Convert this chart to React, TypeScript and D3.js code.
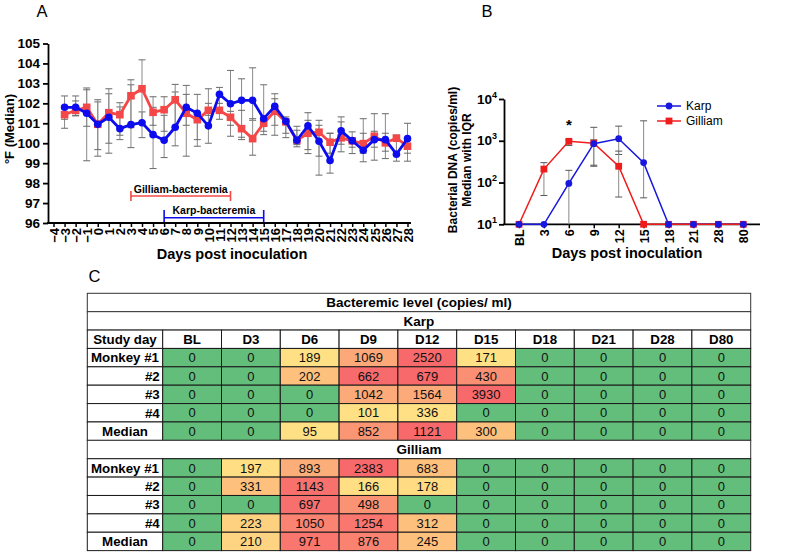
import React, { useRef, useEffect } from "react";
import * as d3 from "d3";

// ---------- Panel A: body temperature, median (°F)
const tempTicksX = [-4, -3, -2, -1, 0, 1, 2, 3, 4, 5, 6, 7, 8, 9, 10, 11, 12, 13, 14, 15, 16, 17, 18, 19, 20, 21, 22, 23, 24, 25, 26, 27, 28];
const tempTicksY = [96, 97, 98, 99, 100, 101, 102, 103, 104, 105];
const tempDays = [-3, -2, -1, 0, 1, 2, 3, 4, 5, 6, 7, 8, 9, 10, 11, 12, 13, 14, 15, 16, 17, 18, 19, 20, 21, 22, 23, 24, 25, 26, 27, 28];
const karpTemp = [101.8, 101.8, 101.5, 100.95, 101.3, 100.73, 100.93, 101.03, 100.43, 100.15, 100.8, 101.8, 101.5, 100.87, 102.45, 101.98, 102.15, 102.15, 101.23, 101.85, 101.1, 100.15, 100.87, 100.1, 99.13, 100.62, 100.13, 99.65, 100.18, 100.18, 99.45, 100.23];
const karpTempLo = [100.75, 101.37, 99.12, 99.35, 99.5, 100.18, 99.78, 100.28, 98.73, 99.28, 99.87, 99.35, 99.85, 100.0, 101.7, 100.35, 100.18, 101.15, 100.43, 100.9, 100.28, 99.82, 99.48, 98.4, 98.5, 99.57, 99.48, 99.07, 99.15, 99.23, 99.1, 99.1];
const karpTempHi = [102.37, 102.37, 102.77, 102.07, 102.48, 101.82, 102.93, 101.57, 101.8, 101.4, 102.57, 102.9, 102.45, 102.73, 102.8, 103.65, 103.23, 103.78, 102.93, 102.48, 101.32, 100.85, 101.53, 101.15, 100.5, 101.32, 100.57, 101.23, 101.48, 101.48, 100.4, 101.0];
const gilliamTemp = [101.43, 101.65, 101.8, 100.95, 101.53, 101.43, 102.38, 102.73, 101.55, 101.68, 102.18, 101.5, 101.18, 101.65, 101.65, 101.3, 100.73, 100.23, 101.0, 101.6, 101.07, 100.15, 100.5, 100.55, 100.05, 100.27, 100.12, 99.98, 100.35, 100.02, 100.25, 99.85];
const gilliamTempLo = [101.2, 101.4, 100.85, 99.68, 100.0, 100.4, 100.78, 101.07, 100.9, 100.6, 100.82, 100.9, 100.18, 101.4, 101.2, 100.9, 100.3, 99.4, 100.6, 100.4, 100.5, 99.93, 99.68, 99.35, 99.5, 99.95, 99.8, 99.5, 99.8, 99.6, 99.5, 99.5];
const gilliamTempHi = [101.87, 102.12, 102.68, 102.18, 102.73, 102.03, 103.18, 104.18, 102.33, 102.33, 102.95, 102.45, 101.52, 102.0, 102.0, 101.6, 101.65, 101.23, 101.3, 102.23, 101.2, 100.65, 101.15, 100.9, 100.5, 101.07, 100.28, 100.5, 100.6, 100.5, 100.4, 100.3];
const gilliamWindow = [3, 12];
const karpWindow = [6, 15];

// ---------- Panel B: bacterial DNA (copies/ml), median with IQR
const dnaDays = ["BL", "3", "6", "9", "12", "15", "18", "21", "28", "80"];
const dnaTicksY = [10, 100, 1000, 10000];
const karpDNA = [10, 10, 95, 852, 1121, 300, 10, 10, 10, 10];
const karpDNALo = [10, 10, 10, 245, 470, 43, 10, 10, 10, 10];
const karpDNAHi = [10, 10, 196, 2100, 2240, 3000, 10, 10, 10, 10];
const gilliamDNA = [10, 210, 971, 876, 245, 10, 10, 10, 10, 10];
const gilliamDNALo = [10, 49, 773, 260, 45, 10, 10, 10, 10, 10];
const gilliamDNAHi = [10, 299, 1050, 1050, 565, 10, 10, 10, 10, 10];

// ---------- Panel C: bacteremic level table
const studyDays = ["BL", "D3", "D6", "D9", "D12", "D15", "D18", "D21", "D28", "D80"];
const rowLabels = ["Monkey #1", "#2", "#3", "#4", "Median"];
const karpTable = [
  [0, 0, 189, 1069, 2520, 171, 0, 0, 0, 0],
  [0, 0, 202, 662, 679, 430, 0, 0, 0, 0],
  [0, 0, 0, 1042, 1564, 3930, 0, 0, 0, 0],
  [0, 0, 0, 101, 336, 0, 0, 0, 0, 0],
  [0, 0, 95, 852, 1121, 300, 0, 0, 0, 0],
];
const gilliamTable = [
  [0, 197, 893, 2383, 683, 0, 0, 0, 0, 0],
  [0, 331, 1143, 166, 178, 0, 0, 0, 0, 0],
  [0, 0, 697, 498, 0, 0, 0, 0, 0, 0],
  [0, 223, 1050, 1254, 312, 0, 0, 0, 0, 0],
  [0, 210, 971, 876, 245, 0, 0, 0, 0, 0],
];
// cell shading as printed: -1 = green, otherwise position on yellow -> red
const karpHeat = [
  [-1, -1, 0.0, 0.47, 1, 0.0, -1, -1, -1, -1],
  [-1, -1, 0.27, 0.98, 1, 0.68, -1, -1, -1, -1],
  [-1, -1, -1, 0.45, 0.45, 1, -1, -1, -1, -1],
  [-1, -1, -1, 0.0, 0.0, -1, -1, -1, -1, -1],
  [-1, -1, 0.0, 0.62, 1, 0.27, -1, -1, -1, -1],
];
const gilliamHeat = [
  [-1, 0.02, 0.42, 1, 0.27, -1, -1, -1, -1, -1],
  [-1, 0.27, 0.93, 0.02, 0.03, -1, -1, -1, -1, -1],
  [-1, -1, 0.94, 0.65, -1, -1, -1, -1, -1, -1],
  [-1, 0.13, 0.78, 0.88, 0.27, -1, -1, -1, -1, -1],
  [-1, 0.1, 0.88, 0.79, 0.27, -1, -1, -1, -1, -1],
];

const FONT = "'Liberation Sans', Arial, Helvetica, sans-serif";
const BLUE_A = "#0c0cee";
const RED_A = "#f44848";
const BLUE_B = "#1717e0";
const RED_B = "#f01c1c";
const GREY = "#8a8a8a";

function App() {
  const ref = useRef<SVGSVGElement | null>(null);

  useEffect(() => {
    const svg = d3.select(ref.current);
    svg.selectAll("*").remove();
    svg.style("font-family", FONT);

    // ================= Panel A =================
    const xA = d3.scaleLinear().domain([-4, 28]).range([53.5, 407.5]);
    const yA = d3.scaleLinear().domain([96, 105]).range([223, 43.5]);
    const gA = svg.append("g");

    gA.append("text").text("A").attr("x", 36.5).attr("y", 17).attr("font-size", 16.5);

    const yAxisA = gA
      .append("g")
      .attr("transform", "translate(48,0)")
      .call(d3.axisLeft(yA).tickValues(tempTicksY).tickSize(5).tickSizeOuter(0).tickPadding(3));
    yAxisA.selectAll("path,line").attr("stroke", "#000").attr("stroke-width", 1.8);
    yAxisA.selectAll("text").attr("font-size", 13.5).attr("font-weight", "bold").attr("font-family", FONT).attr("fill", "#000");

    const xAxisA = gA
      .append("g")
      .attr("transform", "translate(0,223)")
      .call(d3.axisBottom(xA).tickValues(tempTicksX).tickSize(4).tickSizeOuter(0));
    xAxisA.select(".domain").remove();
    xAxisA.selectAll("line").attr("stroke", "#000").attr("stroke-width", 1.5);
    xAxisA
      .selectAll("text")
      .attr("font-size", 13)
      .attr("font-weight", "bold")
      .attr("font-family", FONT)
      .attr("fill", "#000")
      .attr("transform", "rotate(-90)")
      .attr("text-anchor", "end")
      .attr("x", -5)
      .attr("y", 0)
      .attr("dy", "0.36em");
    gA.append("line").attr("x1", 47.1).attr("x2", 411).attr("y1", 223).attr("y2", 223).attr("stroke", "#000").attr("stroke-width", 1.8);

    gA.append("text")
      .text("°F (Median)")
      .attr("transform", "translate(14,129) rotate(-90)")
      .attr("text-anchor", "middle")
      .attr("font-size", 13)
      .attr("font-weight", "bold");
    gA.append("text")
      .text("Days post inoculation")
      .attr("x", 232)
      .attr("y", 259)
      .attr("text-anchor", "middle")
      .attr("font-size", 14.5)
      .attr("font-weight", "bold");

    // error bars
    const errA = (lo: number[], hi: number[]) => {
      tempDays.forEach((d, i) => {
        const x = xA(d);
        gA.append("line").attr("x1", x).attr("x2", x).attr("y1", yA(lo[i])).attr("y2", yA(hi[i])).attr("stroke", GREY).attr("stroke-width", 1);
        [lo[i], hi[i]].forEach((v) => {
          gA.append("line").attr("x1", x - 3.5).attr("x2", x + 3.5).attr("y1", yA(v)).attr("y2", yA(v)).attr("stroke", "#6a6a6a").attr("stroke-width", 1);
        });
      });
    };
    errA(karpTempLo, karpTempHi);
    errA(gilliamTempLo, gilliamTempHi);

    const lineA = d3.line<number>().x((d, i) => xA(tempDays[i])).y((d) => yA(d));
    gA.append("path").datum(gilliamTemp).attr("d", lineA).attr("fill", "none").attr("stroke", RED_A).attr("stroke-width", 2.8).attr("stroke-linejoin", "round");
    gA.selectAll(".sqA")
      .data(gilliamTemp)
      .enter()
      .append("rect")
      .attr("x", (d, i) => xA(tempDays[i]) - 3.8)
      .attr("y", (d) => yA(d) - 3.8)
      .attr("width", 7.6)
      .attr("height", 7.6)
      .attr("fill", RED_A);
    gA.append("path").datum(karpTemp).attr("d", lineA).attr("fill", "none").attr("stroke", BLUE_A).attr("stroke-width", 2.8).attr("stroke-linejoin", "round");
    gA.selectAll(".ciA")
      .data(karpTemp)
      .enter()
      .append("circle")
      .attr("cx", (d, i) => xA(tempDays[i]))
      .attr("cy", (d) => yA(d))
      .attr("r", 3.8)
      .attr("fill", BLUE_A);

    // bacteremia windows
    const windowBar = (w: number[], y: number, color: string, label: string, capTop: number, capBot: number) => {
      const x1 = xA(w[0]);
      const x2 = xA(w[1]);
      gA.append("line").attr("x1", x1).attr("x2", x2).attr("y1", y).attr("y2", y).attr("stroke", color).attr("stroke-width", 1.6);
      [x1, x2].forEach((x) => {
        gA.append("line").attr("x1", x).attr("x2", x).attr("y1", capTop).attr("y2", capBot).attr("stroke", color).attr("stroke-width", 1.6);
      });
      gA.append("text")
        .text(label)
        .attr("x", (x1 + x2) / 2)
        .attr("y", y - 3.5)
        .attr("text-anchor", "middle")
        .attr("font-size", 10.5)
        .attr("font-weight", "bold");
    };
    windowBar(gilliamWindow, 196, RED_A, "Gilliam-bacteremia", 191, 201);
    windowBar(karpWindow, 217.7, BLUE_A, "Karp-bacteremia", 210, 222);

    // ================= Panel B =================
    const xB = d3.scalePoint().domain(dnaDays).range([519, 743.3]);
    const yB = d3.scaleLog().domain([10, 10000]).range([224.3, 99]);
    const gB = svg.append("g");

    gB.append("text").text("B").attr("x", 481.5).attr("y", 17).attr("font-size", 16.5);

    const yAxisB = gB
      .append("g")
      .attr("transform", "translate(504,0)")
      .call(d3.axisLeft(yB).tickValues(dnaTicksY).tickSize(5).tickSizeOuter(0).tickFormat(() => ""));
    yAxisB.selectAll("path,line").attr("stroke", "#000").attr("stroke-width", 1.8);
    dnaTicksY.forEach((v) => {
      const t = gB
        .append("text")
        .attr("x", 497)
        .attr("y", yB(v) + 4.5)
        .attr("text-anchor", "end")
        .attr("font-size", 13.5)
        .attr("font-weight", "bold");
      t.append("tspan").text("10");
      t.append("tspan").text(String(Math.round(Math.log10(v)))).attr("font-size", 9).attr("dy", -6);
    });

    const xAxisB = gB
      .append("g")
      .attr("transform", "translate(0,224.3)")
      .call(d3.axisBottom(xB).tickSize(4).tickSizeOuter(0));
    xAxisB.select(".domain").remove();
    xAxisB.selectAll("line").attr("stroke", "#000").attr("stroke-width", 1.5);
    xAxisB
      .selectAll("text")
      .attr("font-size", 12.5)
      .attr("font-weight", "bold")
      .attr("font-family", FONT)
      .attr("fill", "#000")
      .attr("transform", "rotate(-90)")
      .attr("text-anchor", "end")
      .attr("x", -5)
      .attr("y", 0)
      .attr("dy", "0.36em");
    gB.append("line").attr("x1", 503.1).attr("x2", 760).attr("y1", 224.3).attr("y2", 224.3).attr("stroke", "#000").attr("stroke-width", 1.8);

    gB.append("text")
      .text("Bacterial DNA (copies/ml)")
      .attr("transform", "translate(456.5,160) rotate(-90)")
      .attr("text-anchor", "middle")
      .attr("font-size", 12)
      .attr("font-weight", "bold");
    gB.append("text")
      .text("Median with IQR")
      .attr("transform", "translate(471,160) rotate(-90)")
      .attr("text-anchor", "middle")
      .attr("font-size", 12)
      .attr("font-weight", "bold");
    gB.append("text")
      .text("Days post inoculation")
      .attr("x", 627)
      .attr("y", 257.5)
      .attr("text-anchor", "middle")
      .attr("font-size", 14.5)
      .attr("font-weight", "bold");

    const errB = (lo: number[], hi: number[]) => {
      dnaDays.forEach((d, i) => {
        if (lo[i] === hi[i]) return;
        const x = xB(d) as number;
        gB.append("line").attr("x1", x).attr("x2", x).attr("y1", yB(lo[i])).attr("y2", yB(hi[i])).attr("stroke", GREY).attr("stroke-width", 1);
        [lo[i], hi[i]].forEach((v) => {
          if (v <= 10) return;
          gB.append("line").attr("x1", x - 3.5).attr("x2", x + 3.5).attr("y1", yB(v)).attr("y2", yB(v)).attr("stroke", "#555").attr("stroke-width", 1);
        });
      });
    };
    errB(karpDNALo, karpDNAHi);
    errB(gilliamDNALo, gilliamDNAHi);

    const lineB = d3.line<number>().x((d, i) => xB(dnaDays[i]) as number).y((d) => yB(d));
    gB.append("path").datum(karpDNA).attr("d", lineB).attr("fill", "none").attr("stroke", BLUE_B).attr("stroke-width", 1.5);
    gB.append("path").datum(gilliamDNA).attr("d", lineB).attr("fill", "none").attr("stroke", RED_B).attr("stroke-width", 1.5);
    gB.selectAll(".sqB")
      .data(gilliamDNA)
      .enter()
      .append("rect")
      .attr("x", (d, i) => (xB(dnaDays[i]) as number) - 3.4)
      .attr("y", (d) => yB(d) - 3.4)
      .attr("width", 6.8)
      .attr("height", 6.8)
      .attr("fill", RED_B);
    gB.selectAll(".ciB")
      .data(karpDNA)
      .enter()
      .append("circle")
      .attr("cx", (d, i) => xB(dnaDays[i]) as number)
      .attr("cy", (d) => yB(d))
      .attr("r", 3.4)
      .attr("fill", BLUE_B);

    gB.append("text").text("*").attr("x", xB("6") as number).attr("y", 130).attr("text-anchor", "middle").attr("font-size", 15).attr("font-weight", "bold");

    // legend
    const leg = [
      { name: "Karp", color: BLUE_B, shape: "circle" },
      { name: "Gilliam", color: RED_B, shape: "square" },
    ];
    leg.forEach((l, i) => {
      const y = 106 + i * 15;
      gB.append("line").attr("x1", 657).attr("x2", 681).attr("y1", y).attr("y2", y).attr("stroke", l.color).attr("stroke-width", 1.5);
      if (l.shape === "circle") gB.append("circle").attr("cx", 669).attr("cy", y).attr("r", 3.4).attr("fill", l.color);
      else gB.append("rect").attr("x", 665.6).attr("y", y - 3.4).attr("width", 6.8).attr("height", 6.8).attr("fill", l.color);
      gB.append("text").text(l.name).attr("x", 686).attr("y", y + 4.3).attr("font-size", 12);
    });

    // ================= Panel C =================
    const gC = svg.append("g");
    gC.append("text").text("C").attr("x", 88.5).attr("y", 281.5).attr("font-size", 16.5);

    const tx0 = 87.3;
    const ty0 = 293.3;
    const rowH = 18.38;
    const labelW = 75.4;
    const colW = 58.8;
    const tableW = labelW + colW * studyDays.length;
    const green = "#63be7b";
    const heatColor = d3.interpolateRgb("#ffe084", "#f8696b");

    const fullRow = (r: number, label: string) => {
      const y = ty0 + r * rowH;
      gC.append("rect").attr("x", tx0).attr("y", y).attr("width", tableW).attr("height", rowH).attr("fill", "#fff").attr("stroke", "#333").attr("stroke-width", 1);
      gC.append("text").text(label).attr("x", tx0 + tableW / 2).attr("y", y + rowH / 2 + 4.8).attr("text-anchor", "middle").attr("font-size", 13.5).attr("font-weight", "bold");
    };
    const cell = (x: number, y: number, w: number, fill: string) => {
      gC.append("rect").attr("x", x).attr("y", y).attr("width", w).attr("height", rowH).attr("fill", fill).attr("stroke", "#1a1a1a").attr("stroke-width", 1);
    };

    fullRow(0, "Bacteremic level (copies/ ml)");
    fullRow(1, "Karp");

    // header
    const yh = ty0 + 2 * rowH;
    cell(tx0, yh, labelW, "#fff");
    gC.append("text").text("Study day").attr("x", tx0 + labelW / 2).attr("y", yh + rowH / 2 + 4.8).attr("text-anchor", "middle").attr("font-size", 13.3).attr("font-weight", "bold");
    studyDays.forEach((d, j) => {
      const x = tx0 + labelW + j * colW;
      cell(x, yh, colW, "#fff");
      gC.append("text").text(d).attr("x", x + colW / 2).attr("y", yh + rowH / 2 + 4.8).attr("text-anchor", "middle").attr("font-size", 13.3).attr("font-weight", "bold");
    });

    const block = (startRow: number, table: number[][], heat: number[][]) => {
      table.forEach((row, i) => {
        const y = ty0 + (startRow + i) * rowH;
        cell(tx0, y, labelW, "#fff");
        const lab = rowLabels[i];
        const right = lab.startsWith("#");
        gC.append("text")
          .text(lab)
          .attr("x", right ? tx0 + labelW - 3 : tx0 + labelW / 2)
          .attr("y", y + rowH / 2 + 4.8)
          .attr("text-anchor", right ? "end" : "middle")
          .attr("font-size", 13.3)
          .attr("font-weight", "bold");
        row.forEach((v, j) => {
          const x = tx0 + labelW + j * colW;
          const h = heat[i][j];
          cell(x, y, colW, h < 0 ? green : heatColor(h));
          gC.append("text").text(String(v)).attr("x", x + colW / 2).attr("y", y + rowH / 2 + 4.6).attr("text-anchor", "middle").attr("font-size", 13).attr("fill", "#111");
        });
      });
    };
    block(3, karpTable, karpHeat);
    fullRow(8, "Gilliam");
    block(9, gilliamTable, gilliamHeat);
  }, []);

  return (
    <div style={{ position: "absolute", left: 0, top: 0 }}>
      <svg ref={ref} width={800} height={554} style={{ display: "block", background: "#fff" }} />
    </div>
  );
}

export default App;
